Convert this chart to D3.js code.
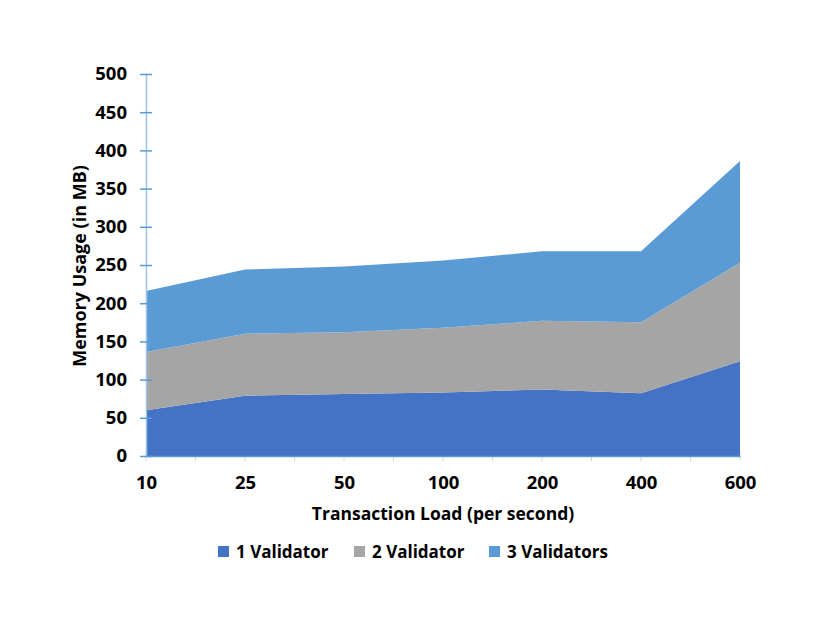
<!DOCTYPE html>
<html><head><meta charset="utf-8">
<script src="https://cdn.jsdelivr.net/npm/d3@7"></script>
<style>body{margin:0;background:#fff;} text{font-family:"Open Sans",sans-serif;font-weight:bold;fill:#000;}</style>
</head><body><svg id="c" width="830" height="642"></svg>
<script>
const categories = ["10","25","50","100","200","400","600"];
const seriesNames = ["1 Validator","2 Validator","3 Validators"];
const val1 = [60, 79, 81, 83, 87, 82, 124];
const val2 = [76, 81, 81, 85, 90, 93, 129];
const val3 = [80, 84, 86, 88, 91, 93, 133];
const yTicks = [0,50,100,150,200,250,300,350,400,450,500];
const colors = ["#4472C4","#A5A5A5","#5B9BD5"];

const svg = d3.select("#c");
const L=146,R=740,T=74,B=456;
const x = d3.scalePoint().domain(categories).range([L,R]);
const y = d3.scaleLinear().domain([0,500]).range([B,T]);

const data = categories.map((c,i)=>({cat:c,s0:val1[i],s1:val2[i],s2:val3[i]}));
const stack = d3.stack().keys(["s0","s1","s2"]);
const layers = stack(data);

// x minor ticks (half-category)
const step = x.step();
const half = [];
for(let i=0;i<categories.length*2-1;i++) half.push(L+i*step/2);
svg.append("g").selectAll("line").data(half).join("line")
  .attr("x1",d=>d).attr("x2",d=>d).attr("y1",B-5).attr("y2",B+5)
  .attr("stroke","#d9d9d9").attr("stroke-width",1);

const area = d3.area().x(d=>x(d.data.cat)).y0(d=>y(d[0])).y1(d=>y(d[1]));
svg.append("g").selectAll("path").data(layers).join("path")
  .attr("d",area).attr("fill",(d,i)=>colors[i]);

// y axis
const yAxis = d3.axisLeft(y).tickValues(yTicks).tickSize(0).tickPadding(19);
const gy = svg.append("g").attr("transform",`translate(${L},0)`).call(yAxis);
gy.select(".domain").attr("stroke","#9DC3E6").attr("stroke-width",1.5);
gy.selectAll(".tick text").style("font-size","18.5px").style("font-weight","bold");
gy.selectAll(".tick").append("line").attr("x1",-6).attr("x2",6).attr("stroke","#5B9BD5").attr("stroke-width",1.5);

// x axis
const xAxis = d3.axisBottom(x).tickSize(0).tickPadding(20);
const gx = svg.append("g").attr("transform",`translate(0,${B})`).call(xAxis);
gx.select(".domain").attr("stroke","#5B9BD5").attr("stroke-width",1.5);
gx.selectAll(".tick text").style("font-size","18.5px").style("font-weight","bold");

svg.append("text").attr("x",443).attr("y",520).attr("text-anchor","middle").style("font-size","17.5px").text("Transaction Load (per second)");
svg.append("text").attr("transform","translate(86,266) rotate(-90)").attr("text-anchor","middle").style("font-size","18px").text("Memory Usage (in MB)");

// legend
const legX=[218,354,489];
const lg = svg.append("g");
seriesNames.forEach((n,i)=>{
  lg.append("rect").attr("x",legX[i]).attr("y",546).attr("width",11).attr("height",11).attr("fill",colors[i]);
  lg.append("text").attr("x",legX[i]+18).attr("y",558).style("font-size","17px").text(n);
});
</script></body></html>
